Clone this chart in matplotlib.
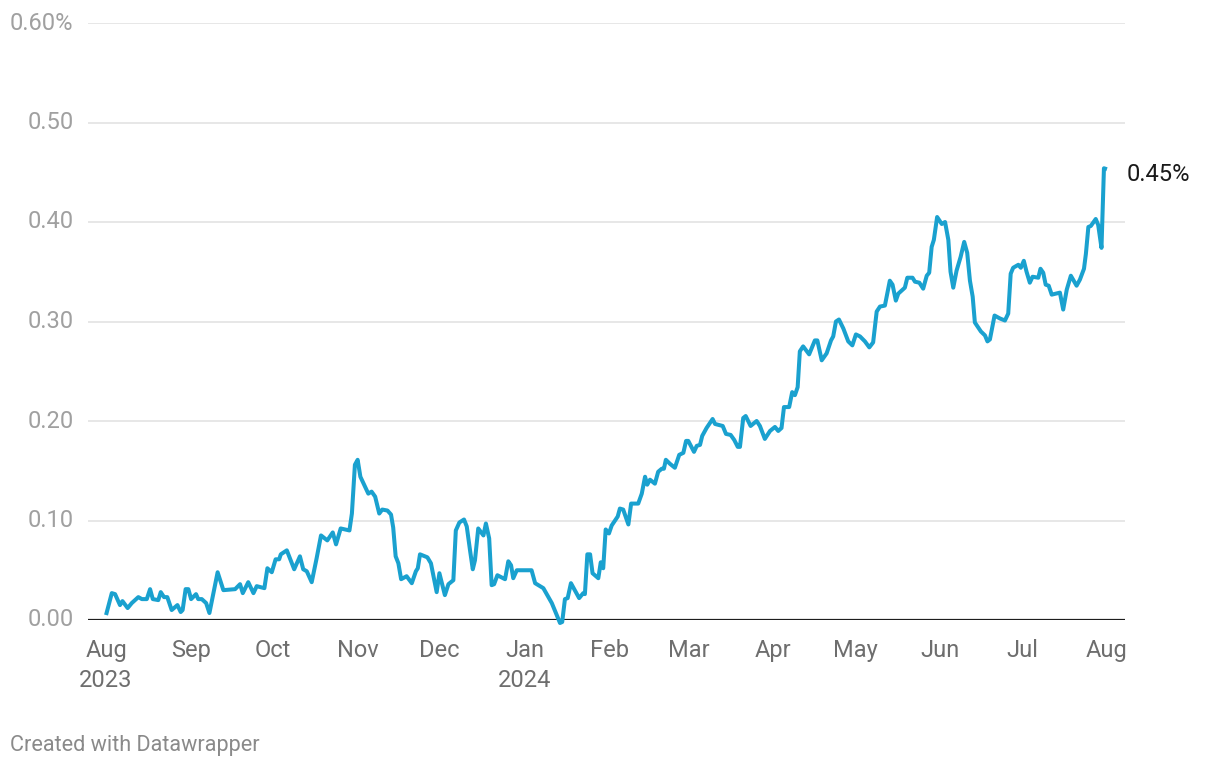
import matplotlib
matplotlib.use("Agg")
import matplotlib.pyplot as plt
import pandas as pd
import numpy as np

plt.rcParams['font.family'] = ['Roboto', 'DejaVu Sans']

# days since 2023-08-01 and value (%)
days = [0, 2.1, 3.3, 5.1, 6.0, 7.9, 9.4, 11.8, 13.1, 14.9, 16.1, 17.1, 19.1, 20.0, 21.2, 22.4,
        24.0, 26.1, 27.3, 28.0, 29.1, 30.1, 31.1, 32.9, 33.7, 35.0, 36.6, 37.8, 40.8, 42.9,
        47.2, 49.0, 50.0, 52.0, 53.9, 55.1, 57.9, 59.0, 60.6, 62.0, 63.3, 63.9, 66.1, 68.8,
        70.9, 72.1, 73.4, 75.2, 77.0, 78.6, 80.9, 82.9, 84.1, 85.8, 89.0, 89.9, 91.0, 92.0,
        93.0, 95.9, 97.1, 98.4, 99.9, 101.0, 102.9, 104.2, 105.0, 105.9, 106.9, 107.9, 109.9,
        111.8, 113.3, 114.0, 114.8, 117.5, 118.8, 120.9, 121.9, 123.9, 125.2, 127.0, 127.9,
        129.2, 130.9, 131.9, 133.1, 134.1, 134.9, 136.1, 138.0, 138.9, 140.1, 141.0, 141.9,
        143.1, 145.9, 147.1, 148.1, 148.9, 150.2, 155.6, 156.9, 159.9, 163.0, 166.0, 166.8,
        167.8, 168.8, 170.0, 173.0, 174.5, 175.1, 176.0, 177.0, 177.9, 180.0, 180.9, 181.8,
        182.7, 183.9, 184.9, 187.1, 187.9, 189.1, 191.0, 192.0, 194.6, 195.9, 197.1, 197.9,
        198.9, 200.7, 201.9, 203.2, 204.0, 204.7, 206.2, 208.0, 209.6, 211.1, 212.1, 212.9,
        215.0, 216.0, 217.2, 218.0, 219.6, 221.8, 222.7, 225.5, 226.7, 228.4, 229.7, 231.0,
        231.8, 233.0, 233.9, 235.7, 237.9, 239.1, 240.9, 242.8, 244.6, 245.8, 247.0, 247.9,
        249.8, 250.9, 251.9, 252.9, 253.7, 254.9, 257.1, 259.2, 260.1, 261.7, 263.5, 265.1,
        265.9, 266.9, 268.0, 269.6, 271.4, 272.9, 274.2, 275.7, 277.5, 279.1, 280.5, 281.8,
        283.0, 284.8, 286.6, 287.6, 288.8, 289.7, 291.3, 292.1, 293.0, 294.9, 295.8, 297.4,
        298.8, 300.1, 301.0, 301.9, 302.7, 303.9, 305.6, 306.8, 308.0, 308.8, 309.8, 311.0,
        312.5, 313.8, 314.9, 315.9, 316.9, 317.7, 319.9, 321.4, 322.3, 323.2, 324.9, 326.9,
        328.7, 329.9, 330.8, 331.7, 333.6, 334.5, 335.6, 336.6, 337.8, 338.8, 340.9, 341.7,
        342.7, 343.6, 344.7, 345.8, 348.8, 350.0, 351.3, 352.8, 354.9, 356.1, 357.6, 358.3,
        359.2, 360.1, 361.9, 362.8, 364.0, 364.9, 366.0]

values = [0.005, 0.027, 0.026, 0.015, 0.019, 0.012, 0.017, 0.023, 0.021, 0.021, 0.031, 0.021,
          0.020, 0.028, 0.023, 0.023, 0.010, 0.015, 0.008, 0.010, 0.031, 0.031, 0.021, 0.026,
          0.021, 0.021, 0.017, 0.007, 0.048, 0.030, 0.031, 0.036, 0.027, 0.038, 0.027, 0.034,
          0.032, 0.052, 0.048, 0.061, 0.061, 0.066, 0.070, 0.051, 0.064, 0.051, 0.049, 0.038,
          0.062, 0.085, 0.080, 0.088, 0.076, 0.092, 0.090, 0.107, 0.156, 0.161, 0.144, 0.127,
          0.129, 0.124, 0.107, 0.111, 0.110, 0.106, 0.093, 0.064, 0.057, 0.041, 0.044, 0.037,
          0.049, 0.052, 0.066, 0.063, 0.057, 0.028, 0.047, 0.025, 0.036, 0.040, 0.090, 0.098,
          0.101, 0.094, 0.070, 0.051, 0.060, 0.092, 0.085, 0.097, 0.082, 0.035, 0.036, 0.045,
          0.041, 0.059, 0.055, 0.042, 0.050, 0.050, 0.037, 0.032, 0.017, -0.003, -0.002, 0.021,
          0.022, 0.037, 0.022, 0.027, 0.026, 0.066, 0.066, 0.047, 0.042, 0.058, 0.052, 0.091,
          0.087, 0.095, 0.104, 0.112, 0.111, 0.096, 0.117, 0.117, 0.127, 0.144, 0.136, 0.141,
          0.137, 0.149, 0.152, 0.152, 0.161, 0.157, 0.153, 0.166, 0.168, 0.180, 0.180, 0.169,
          0.175, 0.176, 0.185, 0.193, 0.202, 0.197, 0.195, 0.187, 0.186, 0.181, 0.174, 0.174,
          0.203, 0.205, 0.195, 0.200, 0.195, 0.182, 0.190, 0.194, 0.190, 0.193, 0.214, 0.214,
          0.229, 0.226, 0.234, 0.270, 0.275, 0.267, 0.281, 0.281, 0.261, 0.268, 0.281, 0.285,
          0.300, 0.302, 0.293, 0.280, 0.276, 0.287, 0.285, 0.280, 0.274, 0.279, 0.310, 0.315,
          0.316, 0.341, 0.337, 0.321, 0.328, 0.332, 0.334, 0.344, 0.344, 0.340, 0.339, 0.333,
          0.346, 0.349, 0.375, 0.382, 0.405, 0.398, 0.400, 0.382, 0.350, 0.334, 0.351, 0.365,
          0.380, 0.369, 0.341, 0.325, 0.299, 0.290, 0.286, 0.280, 0.282, 0.306, 0.303, 0.301,
          0.308, 0.348, 0.354, 0.357, 0.354, 0.361, 0.350, 0.339, 0.345, 0.344, 0.353, 0.349,
          0.337, 0.336, 0.327, 0.329, 0.312, 0.332, 0.346, 0.336, 0.342, 0.353, 0.368, 0.395,
          0.396, 0.403, 0.397, 0.374, 0.454, 0.453]

y_ticks = [0.0, 0.1, 0.2, 0.3, 0.4, 0.5, 0.6]
y_labels = ["0.00", "0.10", "0.20", "0.30", "0.40", "0.50", "0.60%"]
month_ticks = ["2023-08-01", "2023-09-01", "2023-10-01", "2023-11-01", "2023-12-01",
               "2024-01-01", "2024-02-01", "2024-03-01", "2024-04-01", "2024-05-01",
               "2024-06-01", "2024-07-01", "2024-08-01"]
month_labels = ["Aug\n2023", "Sep", "Oct", "Nov", "Dec", "Jan\n2024", "Feb", "Mar", "Apr",
                "May", "Jun", "Jul", "Aug"]
end_label = "0.45%"

start = pd.Timestamp("2023-08-01")
dates = start + pd.to_timedelta(np.array(days), unit="D")

fig = plt.figure(figsize=(12.2, 7.7), dpi=100)
ax = fig.add_axes([88 / 1220, 1 - 620 / 770, (1125 - 88) / 1220, (620 - 23) / 770])

line_color = "#1aa1cf"
ax.plot(dates, values, color=line_color, lw=2.9, solid_joinstyle="round",
        solid_capstyle="butt", clip_on=False, zorder=3)

ax.set_ylim(0, 0.6)
ax.set_xlim(start - pd.Timedelta(days=6.6), start + pd.Timedelta(days=372.6))

for t in y_ticks[1:]:
    ax.axhline(t, color="#e3e3e3", lw=1.2, zorder=1)
ax.axhline(0, color="#1d1d1d", lw=1.6, zorder=2)

ax.set_yticks(y_ticks)
ax.set_yticklabels(y_labels)
ax.tick_params(axis="y", length=0, pad=10.5, labelsize=17, labelcolor="#a0a0a0")
for lbl in ax.get_yticklabels():
    lbl.set_verticalalignment("center")

ax.set_xticks(pd.to_datetime(month_ticks))
ax.set_xticklabels(month_labels, linespacing=1.35)
ax.tick_params(axis="x", length=0, pad=14, labelsize=17, labelcolor="#6e6e6e")

for s in ax.spines.values():
    s.set_visible(False)

ax.annotate(end_label, xy=(dates[-1], values[-1]), xytext=(14, -4),
            textcoords="offset points", va="center", ha="left", fontsize=17,
            color="#1a1a1a", annotation_clip=False)

fig.text(10 / 1220, 1 - 746 / 770, "Created with Datawrapper", fontsize=15.6,
         color="#8a8a8a", va="center", ha="left")

fig.savefig("out.png", dpi=100, facecolor="white")
